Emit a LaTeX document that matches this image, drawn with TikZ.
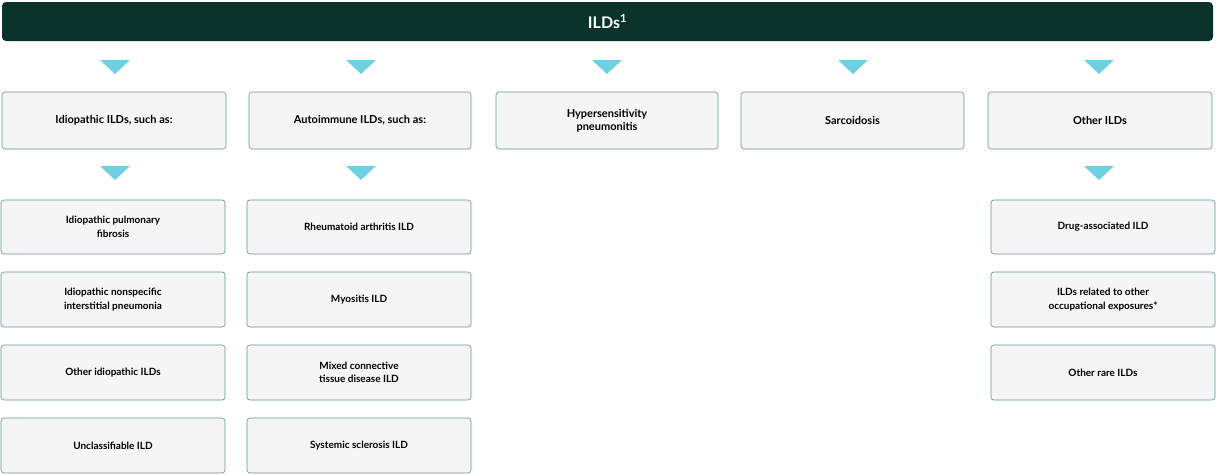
\documentclass[tikz,border=0pt]{standalone}
\usepackage{fontspec}
\setmainfont{Lato}
\begin{document}
\begin{tikzpicture}[x=1pt,y=-1pt,
  bx/.style={draw=black!45!teal!60,fill=black!4,rounded corners=3pt,line width=0.6pt,align=center,font=\bfseries\fontsize{11}{13}\selectfont,inner sep=0pt},
  sb/.style={bx,font=\bfseries\fontsize{10}{13.5}\selectfont},
  tri/.style={fill=cyan!55!white}]
\definecolor{hdr}{HTML}{0A332B}
\definecolor{tr}{HTML}{6FD0E2}
\useasboundingbox (0,0) rectangle (1216,474);
\node[fill=hdr,rounded corners=4pt,minimum width=1211pt,minimum height=39pt,inner sep=0pt,text=white,font=\bfseries\fontsize{16}{18}\selectfont] (h) at (607.5,21.5) {ILDs\textsuperscript{1}};
\foreach \x in {115,361,607,853,1099}{\fill[tr] (\x-15,60) -- (\x+15,60) -- (\x,74) -- cycle;}
\foreach \x in {115,361,1099}{\fill[tr] (\x-15,166) -- (\x+15,166) -- (\x,180) -- cycle;}
\newcommand{\bxat}[7]{\node[#1,minimum width=#4pt-#2pt,minimum height=#5pt-#3pt] (#6) at ({(#2+#4)/2},{(#3+#5)/2}) {#7};}
\bxat{bx}{2}{92}{226}{149}{a}{Idiopathic ILDs, such as:}
\bxat{bx}{249}{92}{471}{149}{b}{Autoimmune ILDs, such as:}
\bxat{bx}{496}{92}{718}{149}{c}{Hypersensitivity\\pneumonitis}
\bxat{bx}{741}{92}{964}{149}{d}{Sarcoidosis}
\bxat{bx}{988}{92}{1212}{149}{e}{Other ILDs}
\bxat{sb}{1}{200}{225}{254}{a1}{Idiopathic pulmonary\\fibrosis}
\bxat{sb}{1}{272}{225}{327}{a2}{Idiopathic nonspecific\\interstitial pneumonia}
\bxat{sb}{1}{345}{225}{400}{a3}{Other idiopathic ILDs}
\bxat{sb}{1}{418}{225}{473}{a4}{Unclassifiable ILD}
\bxat{sb}{247}{200}{471}{254}{b1}{Rheumatoid arthritis ILD}
\bxat{sb}{247}{272}{471}{327}{b2}{Myositis ILD}
\bxat{sb}{247}{345}{471}{400}{b3}{Mixed connective\\tissue disease ILD}
\bxat{sb}{247}{418}{471}{473}{b4}{Systemic sclerosis ILD}
\bxat{sb}{991}{200}{1215}{254}{e1}{Drug-associated ILD}
\bxat{sb}{991}{272}{1215}{327}{e2}{ILDs related to other\\occupational exposures*}
\bxat{sb}{991}{345}{1215}{400}{e3}{Other rare ILDs}
\end{tikzpicture}
\end{document}
